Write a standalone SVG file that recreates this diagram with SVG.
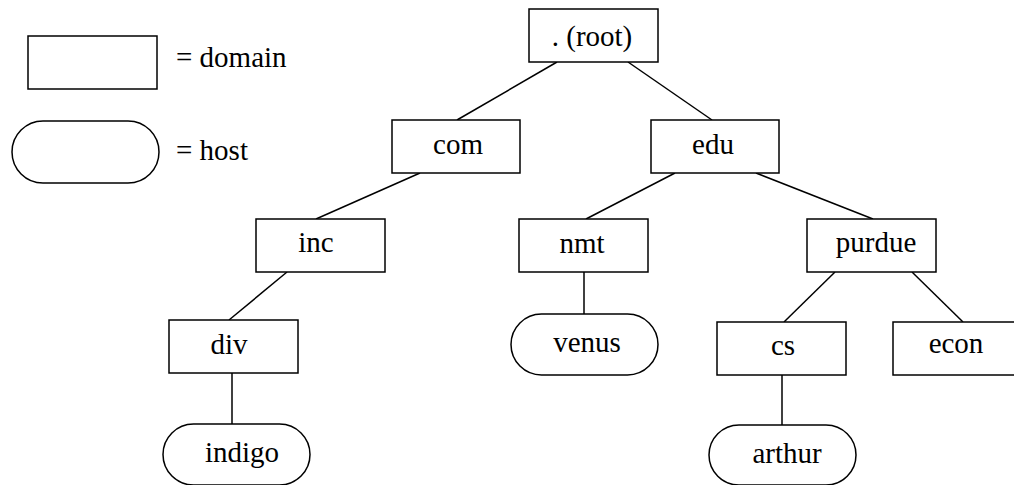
<svg xmlns="http://www.w3.org/2000/svg" width="1014" height="485" viewBox="0 0 1014 485">
  <style>
    .box { fill: #fff; stroke: #000; stroke-width: 1.5; }
    .edge { stroke: #000; stroke-width: 1.5; fill: none; }
    text { font-family: "Liberation Serif", "Times New Roman", serif; font-size: 29px; fill: #000; }
    .c { text-anchor: middle; }
  </style>
  <rect width="1014" height="485" fill="#fff"/>

  <!-- legend -->
  <g id="legend">
    <rect class="box" x="28" y="36" width="129" height="53"/>
    <text x="176" y="67">= domain</text>
    <rect class="box" x="12" y="121" width="147" height="62" rx="31" ry="31"/>
    <text x="176" y="160">= host</text>
  </g>

  <!-- connectors -->
  <g id="connectors">
    <line class="edge" x1="557" y1="62" x2="457" y2="120"/>
    <line class="edge" x1="628" y1="62" x2="712" y2="120"/>
    <line class="edge" x1="420" y1="173" x2="316" y2="219"/>
    <line class="edge" x1="287" y1="272" x2="229" y2="320"/>
    <line class="edge" x1="232" y1="373" x2="232" y2="424"/>
    <line class="edge" x1="675" y1="173" x2="586" y2="219"/>
    <line class="edge" x1="756" y1="173" x2="873" y2="219"/>
    <line class="edge" x1="584" y1="272" x2="584" y2="314"/>
    <line class="edge" x1="835" y1="272" x2="784" y2="322"/>
    <line class="edge" x1="912" y1="272" x2="963" y2="322"/>
    <line class="edge" x1="782" y1="375" x2="782" y2="425"/>
  </g>

  <!-- domains -->
  <g id="root">
    <rect class="box" x="529" y="9" width="129" height="53"/>
    <text class="c" x="592" y="46">. (root)</text>
  </g>
  <g id="com">
    <rect class="box" x="392" y="120" width="128" height="53"/>
    <text class="c" x="458" y="154">com</text>
  </g>
  <g id="edu">
    <rect class="box" x="651" y="120" width="128" height="53"/>
    <text class="c" x="713" y="154">edu</text>
  </g>
  <g id="inc">
    <rect class="box" x="256" y="219" width="129" height="53"/>
    <text class="c" x="316" y="252">inc</text>
  </g>
  <g id="div">
    <rect class="box" x="169" y="320" width="129" height="53"/>
    <text class="c" x="229" y="354">div</text>
  </g>
  <g id="nmt">
    <rect class="box" x="519" y="219" width="129" height="53"/>
    <text class="c" x="582" y="253">nmt</text>
  </g>
  <g id="purdue">
    <rect class="box" x="807" y="219" width="129" height="53"/>
    <text class="c" x="876" y="252">purdue</text>
  </g>
  <g id="cs">
    <rect class="box" x="717" y="322" width="129" height="53"/>
    <text class="c" x="783" y="355">cs</text>
  </g>
  <g id="econ">
    <rect class="box" x="893" y="322" width="129" height="53"/>
    <text class="c" x="956" y="353">econ</text>
  </g>

  <!-- hosts -->
  <g id="indigo">
    <rect class="box" x="163" y="424" width="147" height="61" rx="30.5" ry="30.5"/>
    <text class="c" x="242" y="462">indigo</text>
  </g>
  <g id="venus">
    <rect class="box" x="511" y="314" width="147" height="61" rx="30.5" ry="30.5"/>
    <text class="c" x="587" y="352">venus</text>
  </g>
  <g id="arthur">
    <rect class="box" x="709" y="425" width="147" height="60" rx="30" ry="30"/>
    <text class="c" x="787" y="463">arthur</text>
  </g>
</svg>
